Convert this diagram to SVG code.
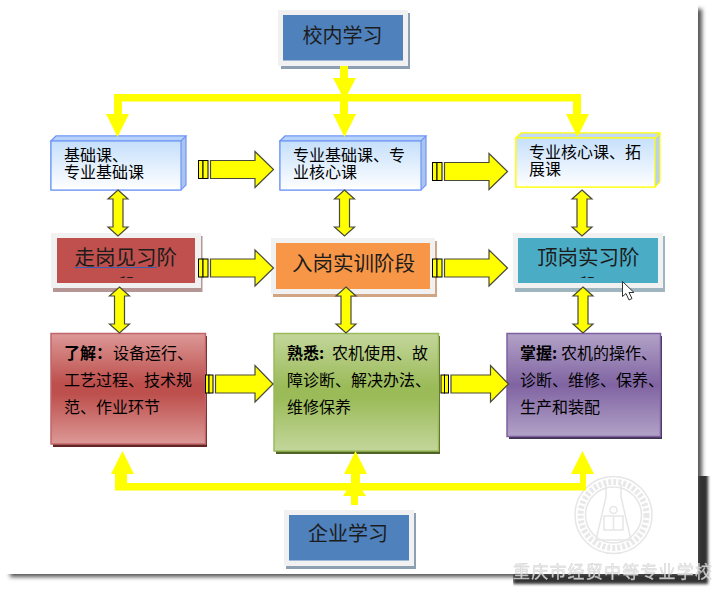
<svg xmlns="http://www.w3.org/2000/svg" width="713" height="589" viewBox="0 0 713 589">
<style>
text{font-family:"Noto Sans CJK SC","Noto Sans",sans-serif;fill:#000}
.t16{font-size:16px}
.t20{font-size:20.5px;fill:#1c1c1c}
.b{font-weight:700}
.y{fill:#ff0}
.blk{fill:#ff0;stroke:#4a4a3a;stroke-width:1.200;stroke-linejoin:miter}
.sm{fill:#ff0;stroke:#000;stroke-width:1}
.frame{fill:#f1f1f1}
.seal{fill:none;stroke:#e6e6e6;stroke-width:1.500}
</style>
<defs>
<filter id="soft" x="-5%" y="-5%" width="110%" height="110%"><feGaussianBlur stdDeviation="2"/></filter>
<filter id="soft2" x="-5%" y="-5%" width="110%" height="110%"><feGaussianBlur stdDeviation="1.600"/></filter>
<clipPath id="patch"><rect x="513" y="476" width="200" height="113"/></clipPath>
<clipPath id="c1"><rect x="57" y="238" width="138" height="40"/></clipPath>
<clipPath id="c3"><rect x="518" y="238" width="140" height="40"/></clipPath>
<linearGradient id="sky" x1="0" y1="0" x2="0" y2="1"><stop offset="0" stop-color="#c5dffb"/><stop offset="1" stop-color="#fff"/></linearGradient>
<linearGradient id="red" x1="0" y1="0" x2="0" y2="1"><stop offset="0" stop-color="#dc9997"/><stop offset=".45" stop-color="#bd504d"/><stop offset=".55" stop-color="#bd504d"/><stop offset="1" stop-color="#dc9997"/></linearGradient>
<linearGradient id="green" x1="0" y1="0" x2="0" y2="1"><stop offset="0" stop-color="#c3d69b"/><stop offset=".45" stop-color="#9bbb59"/><stop offset=".55" stop-color="#9bbb59"/><stop offset="1" stop-color="#c3d69b"/></linearGradient>
<linearGradient id="purple" x1="0" y1="0" x2="0" y2="1"><stop offset="0" stop-color="#b2a2c7"/><stop offset=".5" stop-color="#8064a2"/><stop offset="1" stop-color="#b2a2c7"/></linearGradient>
<g id="blockA">
<rect class="sm" x="198.500" y="0.500" width="4.500" height="18"/><rect class="sm" x="203" y="0.500" width="5" height="18"/>
<path class="blk" d="M210.500 .5H255V-8.500L273.500 9.500 255 27.500V18.500H210.500Z"/>
</g>
<g id="blockB">
<rect class="sm" x="205.500" y="0.500" width="3.500" height="18"/><rect class="sm" x="209" y="0.500" width="4" height="18"/>
<path class="blk" d="M215.500 .5H255V-9L273 9.500 255 27.500V18.500H215.500Z"/>
</g>
<path id="dbl" class="blk" d="M0 0L10 9H5V37H10L0 46-10 37H-5V9H-10Z"/>
</defs>

<g id="page">
<rect x="10" y="9" width="692" height="568" fill="#555" filter="url(#soft)"/>
<path d="M698 470H708V584H513V574H698Z" fill="#333" filter="url(#soft2)" clip-path="url(#patch)"/>
<rect x="0" y="0" width="698" height="574" fill="#fff"/>
</g>

<g id="watermark">
<circle class="seal" cx="613.500" cy="515" r="38.500"/>
<circle cx="613.500" cy="515" r="33" fill="none" stroke="#e8e8e8" stroke-width="6" stroke-dasharray="3 2"/>
<circle class="seal" cx="613.500" cy="515" r="28"/>
<path class="seal" d="M606 484V497L596 540H631L621 497V484"/>
<path class="seal" d="M604 516H623V530H604ZM613.500 516V530"/>
<circle class="seal" cx="613.500" cy="510" r="3.500"/>
<text x="513" y="578" font-size="17" letter-spacing="1.200" style="fill:#ececec;stroke:#c4c4c4;stroke-width:.4;opacity:.85">重庆市经贸中等专业学校</text>
</g>

<g id="n-school">
<rect x="281" y="13" width="129" height="56" fill="#8c9fb3"/>
<rect class="frame" x="278" y="10" width="130" height="56"/>
<rect x="283" y="15" width="120" height="45.500" fill="#4f81bd"/>
<text class="t20" x="342.500" y="43" text-anchor="middle" style="font-size:20px">校内学习</text>
</g>

<g id="n-basic">
<path d="M51 141L56 136H186V185L181 190H51Z" fill="#a9c4ee" stroke="#6f96f5" stroke-width="1.200"/>
<path d="M51 141L56 136H186L181 141Z" fill="#b8d3fb" stroke="#6f96f5" stroke-width="1.200"/>
<rect x="51" y="141" width="130" height="49" fill="url(#sky)" stroke="#6f96f5" stroke-width="1.200"/>
<text class="t16"><tspan x="64" y="161">基础课、</tspan><tspan x="64" y="178">专业基础课</tspan></text>
</g>

<g id="n-major">
<path d="M280 141L285 136H426V185L421 190H280Z" fill="#a9c4ee" stroke="#6f96f5" stroke-width="1.200"/>
<path d="M280 141L285 136H426L421 141Z" fill="#b8d3fb" stroke="#6f96f5" stroke-width="1.200"/>
<rect x="280" y="141" width="141" height="49" fill="url(#sky)" stroke="#6f96f5" stroke-width="1.200"/>
<text class="t16"><tspan x="293" y="161">专业基础课、专</tspan><tspan x="293" y="178">业核心课</tspan></text>
</g>

<g id="n-core">
<path d="M516 138L521 133H660V182L655 187H516Z" fill="#b9d0ee" stroke="#ff0" stroke-width="1.200"/>
<path d="M516 138L521 133H660L655 138Z" fill="#c4dafa" stroke="#ff0" stroke-width="1.200"/>
<rect x="516" y="138" width="139" height="49" fill="url(#sky)" stroke="#ff0" stroke-width="1.200"/>
<text class="t16"><tspan x="529" y="158">专业核心课、拓</tspan><tspan x="529" y="175">展课</tspan></text>
</g>

<g id="n-visit">
<rect x="53" y="236" width="149.500" height="56" fill="#b69595"/>
<rect class="frame" x="51" y="233" width="150" height="55"/>
<rect x="57" y="238" width="138" height="45" fill="#c0504d"/>
<text class="t20" x="74.500" y="265">走岗见习阶</text>
<g clip-path="url(#c1)"><text class="t20" x="116" y="294">段</text></g>
<path d="M74 267.500H157" stroke="#3f5fb5" stroke-width="1" fill="none"/>
</g>

<g id="n-train">
<rect x="273" y="241" width="164" height="56" fill="#cfa584"/>
<rect class="frame" x="271" y="238" width="164" height="56"/>
<rect x="276" y="243" width="154" height="46" fill="#f79646"/>
<text class="t20" x="292" y="271">入岗实训阶段</text>
</g>

<g id="n-post">
<rect x="515" y="236" width="150" height="56" fill="#9fb5bf"/>
<rect class="frame" x="513" y="233" width="150" height="55"/>
<rect x="518" y="238" width="140" height="45" fill="#4bacc6"/>
<text class="t20" x="537" y="265">顶岗实习阶</text>
<g clip-path="url(#c3)"><text class="t20" x="577" y="294">段</text></g>
</g>

<g id="n-understand">
<rect x="53" y="336" width="154" height="111" fill="#632523"/>
<rect x="51" y="333.500" width="154.500" height="110.500" fill="url(#red)" stroke="#c0666a" stroke-width="1.500"/>
<text class="t16"><tspan x="64" y="359" class="b">了解：</tspan><tspan x="113" y="359">设备运行、</tspan><tspan x="64" y="386">工艺过程、技术规</tspan><tspan x="64" y="413">范、作业环节</tspan></text>
</g>

<g id="n-familiar">
<rect x="276" y="336" width="164" height="118" fill="#4f6228"/>
<rect x="274" y="333.500" width="164.500" height="117.500" fill="url(#green)" stroke="#9bbb59" stroke-width="1.500"/>
<text class="t16"><tspan x="287" y="359" class="b">熟悉:</tspan><tspan x="332" y="359">农机使用、故</tspan><tspan x="287" y="386">障诊断、解决办法、</tspan><tspan x="287" y="413">维修保养</tspan></text>
</g>

<g id="n-master">
<rect x="509" y="336" width="153" height="103" fill="#3f3151"/>
<rect x="507" y="333.500" width="153.500" height="103" fill="url(#purple)" stroke="#7d60a0" stroke-width="1.500"/>
<text class="t16"><tspan x="520" y="359" class="b">掌握:</tspan><tspan x="561" y="359">农机的操作、</tspan><tspan x="520" y="386">诊断、维修、保养、</tspan><tspan x="520" y="413">生产和装配</tspan></text>
</g>

<g id="n-enterprise">
<rect x="286" y="513" width="130" height="56" fill="#8c9fb3"/>
<rect class="frame" x="284" y="510" width="130" height="56"/>
<rect x="289" y="515" width="120" height="45.500" fill="#4f81bd"/>
<text class="t20" x="348" y="541" text-anchor="middle" style="font-size:20px">企业学习</text>
</g>

<g id="connectors">
<path class="y" d="M340 66H348V78H356L344.500 100 333 78H340Z"/>
<path class="y" d="M114 94H581V114H589L577.500 137 566 114H573V101.500H348V114H356L344.500 137 333 114H340V101.500H122V114H129L117.500 137 106 114H114Z"/>
<use href="#blockA" y="160"/>
<use href="#blockA" x="234" y="162"/>
<use href="#blockA" y="258.500"/>
<use href="#blockA" x="234" y="258.500"/>
<use href="#blockB" y="374.500"/>
<use href="#blockB" x="235.500" y="374.500"/>
<use href="#dbl" x="118" y="190"/>
<use href="#dbl" x="344.500" y="190"/>
<use href="#dbl" x="582" y="190"/>
<use href="#dbl" x="119.500" y="287"/>
<use href="#dbl" x="346" y="287"/>
<use href="#dbl" x="583" y="287"/>
<path class="y" d="M115 490.500V483H115V474H111L122.500 451 134 474H127V483H351V474H344L355.500 451 367 474H360V483H580V474H571L582.500 451 594 474H586V490.500Z"/>
<path class="y" d="M343 496L354.500 478 366 496H358V505H351V496Z"/>
</g>

<path id="cursor" d="M622.500 281.500V296.500L626 293.500 629 300 632 298.500 629 292.500H634Z" fill="#fff" stroke="#333" stroke-width="1"/>
</svg>
